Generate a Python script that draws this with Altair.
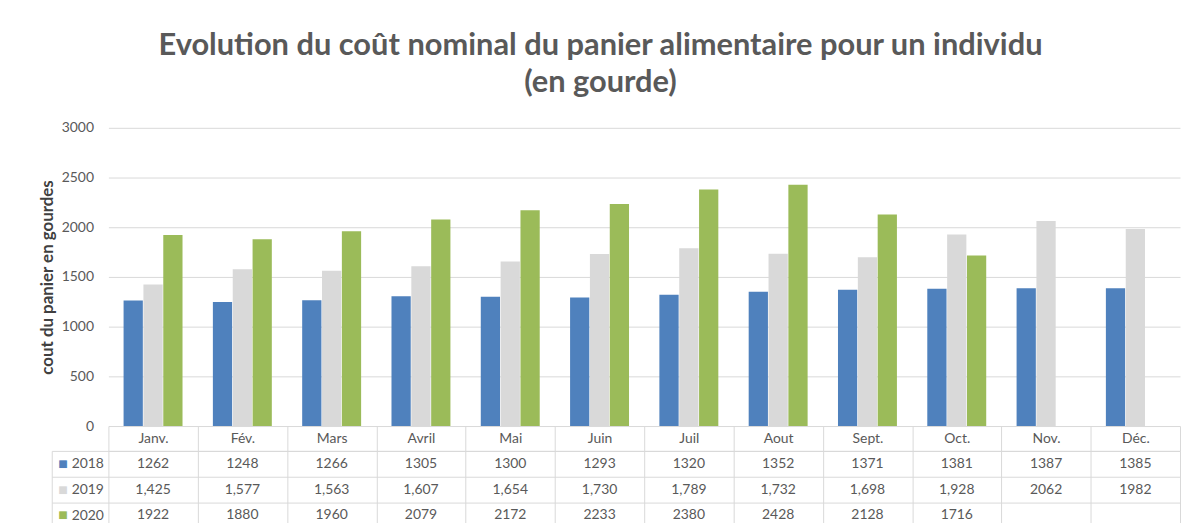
import altair as alt
import pandas as pd

months = ["Janv.", "Fév.", "Mars", "Avril", "Mai", "Juin", "Juil", "Aout",
          "Sept.", "Oct.", "Nov.", "Déc."]
years = ["2018", "2019", "2020"]
cost_2018 = [1262, 1248, 1266, 1305, 1300, 1293, 1320, 1352, 1371, 1381, 1387, 1385]
cost_2019 = [1425, 1577, 1563, 1607, 1654, 1730, 1789, 1732, 1698, 1928, 2062, 1982]
cost_2020 = [1922, 1880, 1960, 2079, 2172, 2233, 2380, 2428, 2128, 1716, None, None]
# texts exactly as printed in the data table of the picture
table_2018 = ["1262", "1248", "1266", "1305", "1300", "1293", "1320", "1352", "1371", "1381", "1387", "1385"]
table_2019 = ["1,425", "1,577", "1,563", "1,607", "1,654", "1,730", "1,789", "1,732", "1,698", "1,928", "2062", "1982"]
table_2020 = ["1922", "1880", "1960", "2079", "2172", "2233", "2380", "2428", "2128", "1716", "", ""]
y_ticks = [0, 500, 1000, 1500, 2000, 2500, 3000]
colors = ["#4f81bd", "#d9d9d9", "#9bbb59"]
title_lines = ["Evolution du coût nominal du panier alimentaire pour un individu", "(en gourde)"]
y_title = "cout du panier en gourdes"

FONT = "Lato"
GRID = "#d9d9d9"
TXT = "#595959"

bar_rows = []
for yr, vals in zip(years, [cost_2018, cost_2019, cost_2020]):
    for m, v in zip(months, vals):
        if v is not None:
            bar_rows.append({"month": m, "year": yr, "cost": v})
bar_df = pd.DataFrame(bar_rows)

tab_rows = []
for yr, vals in zip(years, [table_2018, table_2019, table_2020]):
    for m, t in zip(months, vals):
        tab_rows.append({"row": yr, "month": m, "text": t})
tab_df = pd.DataFrame(tab_rows)

bars = alt.Chart(bar_df).mark_bar().encode(
    x=alt.X("month:N", sort=months,
            scale=alt.Scale(domain=months, paddingInner=0.34, paddingOuter=0.17),
            axis=None),
    xOffset=alt.XOffset("year:N", sort=years, scale=alt.Scale(domain=years, paddingInner=0.03)),
    y=alt.Y("cost:Q", scale=alt.Scale(domain=[0, 3000]),
            axis=alt.Axis(values=y_ticks, format="d", title=y_title, domain=False, ticks=False,
                          gridColor=GRID, labelPadding=15, labelFontSize=14,
                          labelColor=TXT, titleFontSize=17, titleFontWeight="bold",
                          titleColor="#404040", titlePadding=5)),
    color=alt.Color("year:N", scale=alt.Scale(domain=years, range=colors), legend=None),
).properties(width=1078, height=300)

xenc = alt.X("month:N", sort=months,
             scale=alt.Scale(domain=months, paddingInner=0, paddingOuter=0),
             axis=alt.Axis(orient="top", title=None, domain=True, domainColor=GRID,
                           ticks=True, tickBand="extent", tickSize=25, tickColor=GRID,
                           labelPadding=-12.5, labelBaseline="middle", labelAngle=0,
                           labelFontSize=14, labelColor=TXT,
                           grid=True, gridColor=GRID))
yscale = alt.Scale(domain=years, paddingInner=0, paddingOuter=0)

values_layer = alt.Chart(tab_df).transform_filter("datum.row != '2020'").mark_text(
    fontSize=14, color=TXT, font=FONT
).encode(
    x=xenc,
    y=alt.Y("row:N", sort=years, scale=yscale,
            axis=alt.Axis(orient="left", title=None, domain=False, ticks=True,
                          tickBand="extent", tickSize=57, tickColor=GRID,
                          labelPadding=-52, labelFontSize=14, labelColor=TXT,
                          grid=True, gridColor=GRID)),
    text="text:N",
)

last_layer = alt.Chart(tab_df).transform_filter("datum.row == '2020'").mark_text(
    fontSize=14, color=TXT, font=FONT
).encode(
    x=xenc,
    y=alt.Y("row:N", sort=years, scale=yscale,
            axis=alt.Axis(orient="left", title=None, offset=57, domain=True,
                          domainColor=GRID, ticks=False, grid=False,
                          labelExpr="'■'",
                          labelAlign="left", labelPadding=-6, labelFontSize=16,
                          labelColor={"condition": [
                              {"test": "datum.value === '2018'", "value": colors[0]},
                              {"test": "datum.value === '2019'", "value": colors[1]}],
                              "value": colors[2]})),
    text="text:N",
)

table = alt.layer(values_layer, last_layer).resolve_axis(y="independent").properties(
    width=1078, height=78)

chart = alt.vconcat(bars, table, spacing=25, bounds="flush").properties(
    title=alt.TitleParams(title_lines, fontSize=31, fontWeight="bold", color=TXT,
                          anchor="middle", offset=22, lineHeight=37, font=FONT, dx=-9),
    padding={"left": 30, "top": 21, "right": 0, "bottom": -8},
).configure(font=FONT).configure_view(stroke=None)

chart.save("out.html", embed_options={"renderer": "svg", "actions": False})
